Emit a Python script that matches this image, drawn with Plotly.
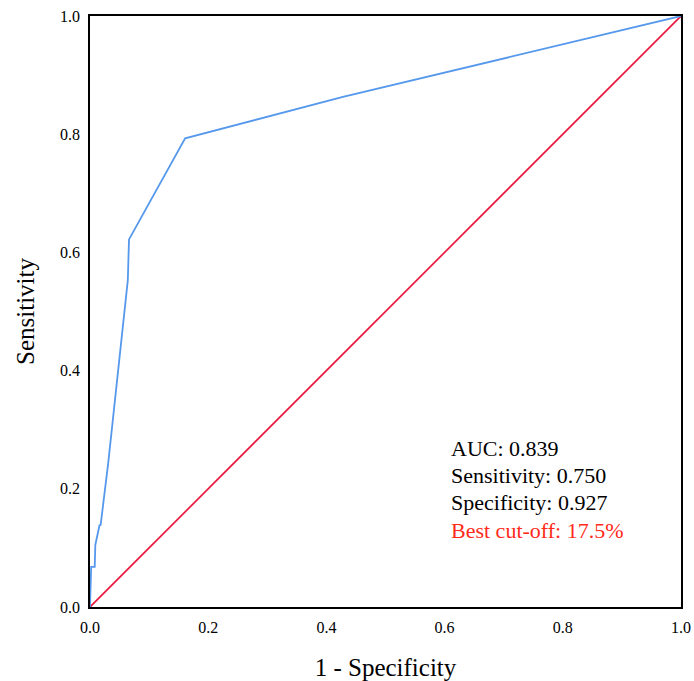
import plotly.graph_objects as go

fpr = [0.0, 0.002, 0.008, 0.009, 0.016, 0.018, 0.031, 0.064, 0.066, 0.161, 0.428, 1.0]
tpr = [0.0, 0.068, 0.068, 0.105, 0.138, 0.139, 0.245, 0.553, 0.622, 0.793, 0.863, 1.0]
ref_x = [0.0, 1.0]
ref_y = [0.0, 1.0]
tick_vals = [0.0, 0.2, 0.4, 0.6, 0.8, 1.0]
tick_text = ["0.0", "0.2", "0.4", "0.6", "0.8", "1.0"]
stats_labels = ["AUC: 0.839", "Sensitivity: 0.750", "Specificity: 0.927", "Best cut-off: 17.5%"]
stats_colors = ["black", "black", "black", "#FF2A1A"]
stats_y = [0.269, 0.222, 0.176, 0.129]

FONT = "Liberation Serif, Times New Roman, serif"

fig = go.Figure()
fig.add_trace(go.Scatter(x=ref_x, y=ref_y, mode="lines",
                         line=dict(color="#E8173D", width=1.7), showlegend=False,
                         cliponaxis=False))
fig.add_trace(go.Scatter(x=fpr, y=tpr, mode="lines",
                         line=dict(color="#5598EC", width=1.8), showlegend=False,
                         cliponaxis=False))

for lab, col, yy in zip(stats_labels, stats_colors, stats_y):
    fig.add_annotation(x=0.608, y=yy, xref="x", yref="y", text=lab, showarrow=False,
                       xanchor="left", yanchor="middle",
                       font=dict(family=FONT, size=22, color=col))

axis_common = dict(range=[0, 1], tickvals=tick_vals, ticktext=tick_text,
                   showgrid=False, zeroline=False, showline=True, mirror=True,
                   linecolor="black", linewidth=1.5, ticks="outside", ticklen=5,
                   tickcolor="rgba(0,0,0,0)", automargin=False,
                   tickfont=dict(family=FONT, size=16, color="black"))

fig.update_xaxes(**axis_common,
                 title=dict(text="1 - Specificity", font=dict(family=FONT, size=25, color="black"),
                            standoff=24))
fig.update_yaxes(**axis_common,
                 title=dict(text="Sensitivity", font=dict(family=FONT, size=25, color="black"),
                            standoff=18))

fig.update_layout(width=694, height=681, plot_bgcolor="white", paper_bgcolor="white",
                  margin=dict(l=90, r=13, t=16, b=74, autoexpand=False))

fig.write_html("out.html", config={"displayModeBar": False},
               post_script="document.body.style.margin='0';document.body.style.overflow='hidden';")
